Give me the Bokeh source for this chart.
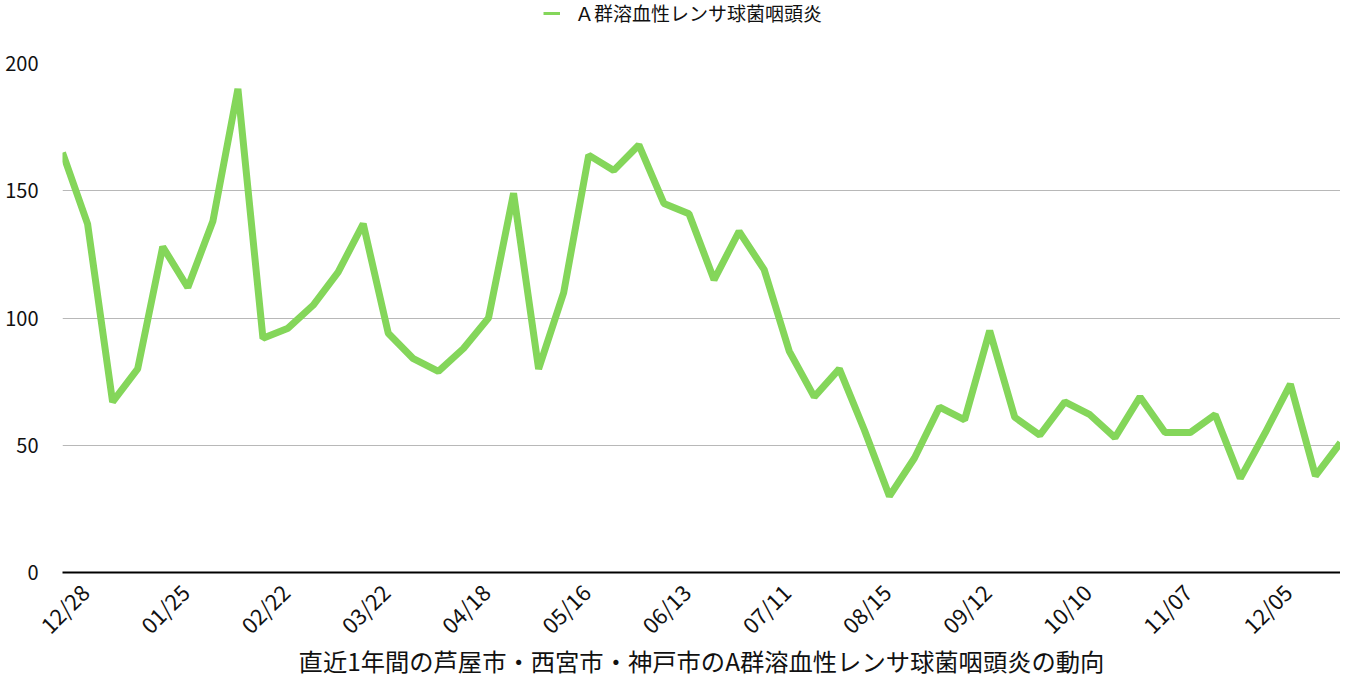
import math
from bokeh.plotting import figure
from bokeh.layouts import column
from bokeh.models import Range1d, FixedTicker, Legend, LegendItem, LinearAxis
from bokeh.embed import file_html
from bokeh.resources import INLINE

# weekly counts (52 weeks)
values = [165, 137, 67, 80, 128, 112, 138, 190, 92, 96, 105, 118, 137, 94, 84, 79,
          88, 100, 149, 80, 110, 164, 158, 168, 145, 141, 115, 134, 119, 87, 69, 80,
          56, 30, 45, 65, 60, 95, 61, 54, 67, 62, 53, 69, 55, 55, 62, 37, 55, 74, 38, 51]
weeks = list(range(len(values)))
tick_labels = ["12/28", "01/25", "02/22", "03/22", "04/18", "05/16", "06/13",
               "07/11", "08/15", "09/12", "10/10", "11/07", "12/05"]
tick_positions = [i * 4 for i in range(len(tick_labels))]
y_ticks = [0, 50, 100, 150, 200]
series_name = "Ａ群溶血性レンサ球菌咽頭炎"
axis_title = "直近1年間の芦屋市・西宮市・神戸市のA群溶血性レンサ球菌咽頭炎の動向"

FONT = "Noto Sans CJK JP"
GREEN = "#84D65A"
TXT = "#111111"
LEG_H = 30

# ---- legend strip (the series is drawn out of view; only its legend shows) ----
leg = figure(width=1340, height=LEG_H, output_backend="svg", toolbar_location=None,
             x_range=Range1d(0, 1), y_range=Range1d(-2, -1),
             x_axis_location=None, y_axis_location=None, min_border=0)
leg.title.visible = False
leg.outline_line_color = None
leg.grid.visible = False
proxy = leg.line(weeks, values, line_color=GREEN, line_width=3)
legend = Legend(items=[LegendItem(label=series_name, renderers=[proxy])],
                location=(481, 4), orientation="horizontal",
                glyph_width=17, glyph_height=20, label_height=20,
                label_standoff=15, padding=0, margin=0,
                border_line_color=None, background_fill_alpha=0,
                label_text_font=FONT, label_text_font_size="19px",
                label_text_color=TXT)
leg.add_layout(legend)

# ---- main chart ----
p = figure(width=1340, height=680 - LEG_H, output_backend="svg", toolbar_location=None,
           x_range=Range1d(0, len(values) - 1), y_range=Range1d(0, 200),
           x_axis_location=None,
           min_border_left=62, min_border_right=0, min_border_top=63 - LEG_H,
           min_border_bottom=108)
p.title.visible = False
p.outline_line_color = None

r = p.line(weeks, values, line_color=GREEN, line_width=7, line_join="bevel")

p.xgrid.visible = False
p.ygrid.grid_line_color = "#b8b8b8"
p.ygrid.grid_line_width = 1

p.yaxis.ticker = FixedTicker(ticks=y_ticks)
p.yaxis.axis_line_color = None
p.yaxis.major_tick_line_color = None
p.yaxis.minor_tick_line_color = None
p.yaxis.major_tick_out = 0
p.yaxis.major_tick_in = 0
p.yaxis.major_label_standoff = 24
p.yaxis.major_label_text_font = FONT
p.yaxis.major_label_text_font_size = "20px"
p.yaxis.major_label_text_color = TXT

# x axis whose label anchor is shifted so the rotated labels sit centred on their weeks
shift = 0.87
p.extra_x_ranges = {"lab": Range1d(-shift, len(values) - 1 - shift)}
xax = LinearAxis(x_range_name="lab", ticker=FixedTicker(ticks=tick_positions))
xax.major_label_overrides = {pos: lab for pos, lab in zip(tick_positions, tick_labels)}
xax.major_label_orientation = math.pi / 4
xax.axis_line_color = "black"
xax.axis_line_width = 2
xax.major_tick_line_color = None
xax.minor_tick_line_color = None
xax.major_tick_out = 0
xax.major_tick_in = 0
xax.major_label_standoff = 15
xax.major_label_text_font = FONT
xax.major_label_text_font_size = "22px"
xax.major_label_text_color = TXT
xax.axis_label = axis_title
xax.axis_label_text_font = FONT
xax.axis_label_text_font_size = "24.3px"
xax.axis_label_text_font_style = "normal"
xax.axis_label_text_color = TXT
xax.axis_label_standoff = -11
p.add_layout(xax, "below")

page = column(leg, p, spacing=0)
open("out.html", "w").write(file_html(page, INLINE))
